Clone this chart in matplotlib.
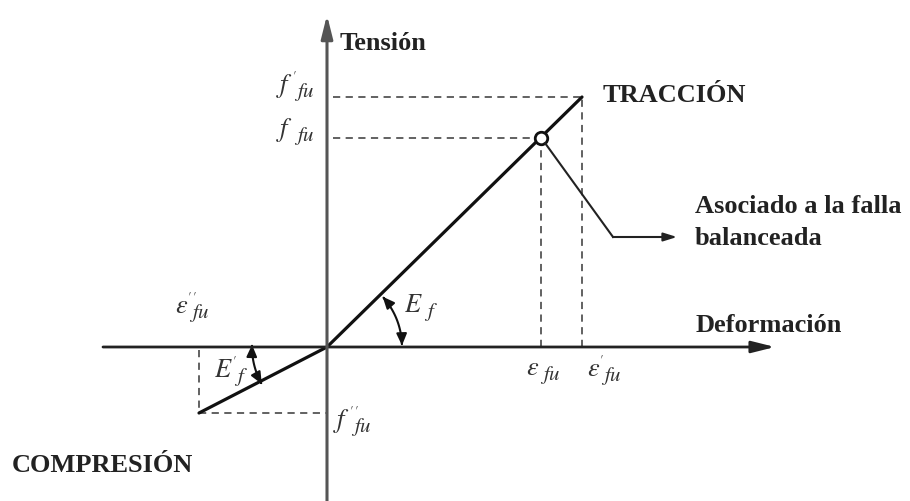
import numpy as np
import matplotlib
matplotlib.use("Agg")
import matplotlib.pyplot as plt
from matplotlib.patches import FancyArrowPatch
from matplotlib.path import Path

plt.rcParams["mathtext.fontset"] = "stix"
SERIF = ["Liberation Serif", "DejaVu Serif"]

# diagram values (strain, stress) relative to origin
eps_fu, f_fu = 214, 209            # balanced-failure point (open circle)
eps_fu_t, f_fu_t = 255, 250        # tension end
eps_c, f_c = -128, -66             # compression end
x_axis = [-224, 448]
y_axis = [-160, 332]
leader = [(218, 204), (286, 110), (350, 110)]

# symbol labels: main glyph, subscript, superscript, junction x, baseline y
symbols = [
    (r"$f$", r"$fu$", r"$\prime$", -34, 255),
    (r"$f$", r"$fu$", "", -34, 211),
    (r"$\varepsilon$", r"$fu$", r"$\prime\,\prime$", -139, 34),
    (r"$\varepsilon$", r"$fu$", "", 212, -28),
    (r"$\varepsilon$", r"$fu$", r"$\prime$", 273, -29),
    (r"$f$", r"$fu$", r"$\prime\,\prime$", 23, -80),
    (r"$E$", r"$f$", "", 96, 35),
    (r"$E$", r"$f$", r"$\prime$", -94, -30),
]
labels_bold = [
    ("Tensión", 13, 297),
    ("TRACCIÓN", 276, 245),
    ("Deformación", 369, 15),
    ("Asociado a la falla", 368, 134),
    ("balanceada", 368, 102),
    ("COMPRESIÓN", -315, -125),
]

fig = plt.figure(figsize=(9.10, 5.01), dpi=100)
ax = fig.add_axes([0, 0, 1, 1])
ax.set_xlim(-327, 583)
ax.set_ylim(-154, 347)
ax.axis("off")

# axes with arrows
ax.annotate("", xy=(x_axis[1], 0), xytext=(x_axis[0], 0),
            arrowprops=dict(arrowstyle="-|>,head_length=1.4,head_width=0.35", lw=2, color="#222",
                            shrinkA=0, shrinkB=0))
ax.annotate("", xy=(0, y_axis[1]), xytext=(0, y_axis[0]),
            arrowprops=dict(arrowstyle="-|>,head_length=1.4,head_width=0.35", lw=2.2, color="#555",
                            shrinkA=0, shrinkB=0))

# dashed guides
dk = dict(color="#555", lw=1.3, dashes=(4, 3))
ax.plot([6, eps_fu_t], [f_fu_t, f_fu_t], **dk)
ax.plot([6, eps_fu], [f_fu, f_fu], **dk)
ax.plot([eps_fu, eps_fu], [0, f_fu], **dk)
ax.plot([eps_fu_t, eps_fu_t], [0, f_fu_t], **dk)
ax.plot([eps_c, eps_c], [-3, f_c], **dk)
ax.plot([eps_c, 0], [f_c, f_c], **dk)

# stress-strain line
ax.plot([eps_c, 0, eps_fu_t], [f_c, 0, f_fu_t], color="#111", lw=2.3, solid_capstyle="round")
ax.plot([eps_fu], [f_fu], "o", ms=9, mfc="white", mec="#111", mew=2)

# leader to note
lx, ly = zip(*leader)
ax.plot(lx[:2], ly[:2], color="#222", lw=1.5)
ax.annotate("", xy=leader[2], xytext=leader[1],
            arrowprops=dict(arrowstyle="-|>,head_length=0.8,head_width=0.25", lw=1.5, color="#222",
                            shrinkA=0, shrinkB=0))

# angle arcs
def arc(a0, a1, r=75):
    t = np.linspace(a0, a1, 40)
    p = Path(np.column_stack([r * np.cos(t), r * np.sin(t)]))
    ax.add_patch(FancyArrowPatch(path=p, arrowstyle="<|-|>,head_length=0.5,head_width=0.22",
                                 lw=1.5, color="#111", mutation_scale=14))

arc(np.arctan2(f_fu_t, eps_fu_t) - 0.04, 0.02)
arc(np.pi - 0.03, np.arctan2(f_c, eps_c) + 2 * np.pi + 0.04)

for main, sub, sup, x, y in symbols:
    kw = dict(textcoords="offset points", va="baseline", color="#333")
    ax.annotate(main, (x, y), xytext=(0, 0), ha="right", fontsize=19, **kw)
    ax.annotate(sub, (x, y), xytext=(0.5, -3.5), ha="left", fontsize=15, **kw)
    if sup:
        ax.annotate(sup, (x, y), xytext=(-1, 10), ha="left", fontsize=9, **kw)

for s, x, y in labels_bold:
    ax.text(x, y, s, fontsize=19, ha="left", va="baseline", fontweight="bold",
            family=SERIF, color="#222")

fig.savefig("out.png", dpi=100)
